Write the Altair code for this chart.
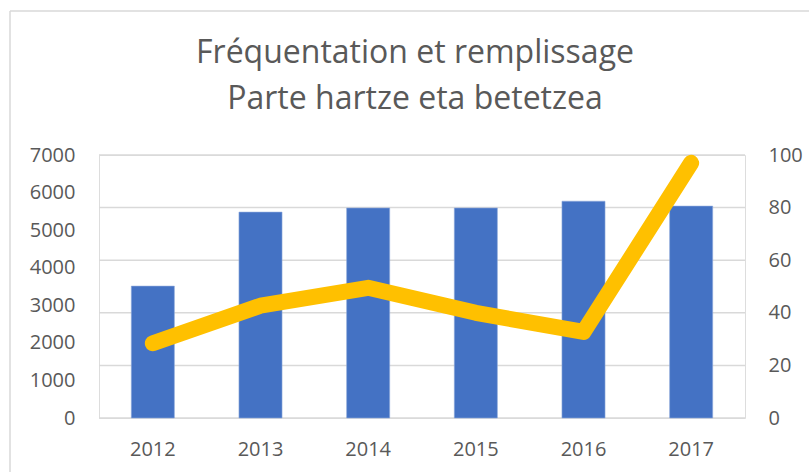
import altair as alt
import pandas as pd

years = ["2012", "2013", "2014", "2015", "2016", "2017"]
frequentation = [3510, 5480, 5590, 5590, 5770, 5640]
remplissage = [28.4, 42.7, 49.5, 40.0, 32.7, 97.0]
left_ticks = [0, 1000, 2000, 3000, 4000, 5000, 6000, 7000]
right_ticks = [0, 20, 40, 60, 80, 100]
title_lines = ["Fréquentation et remplissage", "Parte hartze eta betetzea"]

df = pd.DataFrame({"year": years, "freq": frequentation, "remp": remplissage})
grid_df = pd.DataFrame({"g": right_ticks})
one = pd.DataFrame({"k": [0]})

FONT = "Open Sans"
GREY = "#595959"

x = alt.X("year:N", sort=years,
          scale=alt.Scale(paddingInner=0.6, paddingOuter=0.3),
          axis=alt.Axis(title=None, labelAngle=0, ticks=False, domain=False, grid=False,
                        labelPadding=21, labelFontSize=20, labelColor=GREY,
                        labelFont=FONT))

grid = alt.Chart(grid_df).mark_rule(stroke="#d9d9d9", strokeWidth=1.5).encode(
    y=alt.Y("g:Q", scale=alt.Scale(domain=[0, 100], nice=False), axis=None),
    x=alt.value(0), x2=alt.value(646),
)

bars = alt.Chart(df).mark_bar(color="#4472C4", stroke="#8faadc", strokeWidth=0.6).encode(
    x=x,
    y=alt.Y("freq:Q", scale=alt.Scale(domain=[0, 7000], nice=False),
            axis=alt.Axis(title=None, values=left_ticks, format="d", grid=False, ticks=False,
                          domain=False, labelPadding=24, labelFontSize=20,
                          labelColor=GREY, labelFont=FONT, orient="left")),
)

line = alt.Chart(df).mark_line(color="#FFC000", strokeWidth=16, strokeCap="round",
                               strokeJoin="round").encode(
    x=x,
    y=alt.Y("remp:Q", scale=alt.Scale(domain=[0, 100], nice=False),
            axis=alt.Axis(title=None, values=right_ticks, format="d", grid=False,
                          ticks=False, domain=False, labelPadding=23, labelFontSize=20,
                          labelColor=GREY, labelFont=FONT, orient="right")),
)

border_top = alt.Chart(one).mark_rule(stroke="#d9d9d9", strokeWidth=1.5).encode(
    x=alt.value(-89), x2=alt.value(720), y=alt.value(-144)
)
border_left = alt.Chart(one).mark_rule(stroke="#d9d9d9", strokeWidth=1.5).encode(
    x=alt.value(-89), y=alt.value(-144), y2=alt.value(330)
)

t1 = alt.Chart(one).mark_text(text=title_lines[0], fontSize=32, font=FONT, color=GREY,
                              align="center", baseline="middle").encode(
    x=alt.value(316), y=alt.value(-102))
t2 = alt.Chart(one).mark_text(text=title_lines[1], fontSize=32, font=FONT, color=GREY,
                              align="center", baseline="middle").encode(
    x=alt.value(316), y=alt.value(-56))

chart = alt.layer(border_top, border_left, t1, t2, grid, bars, line).resolve_scale(
    y="independent").properties(
    width=646, height=263,
    padding={"left": 99, "top": 155, "right": 64, "bottom": 54},
    autosize=alt.AutoSizeParams(type="none"),
).configure_view(strokeWidth=0, stroke="transparent").configure_axis(
    domain=False, ticks=False
).configure(background="white")

chart.save("out.html", embed_options={"renderer": "svg", "actions": False})
